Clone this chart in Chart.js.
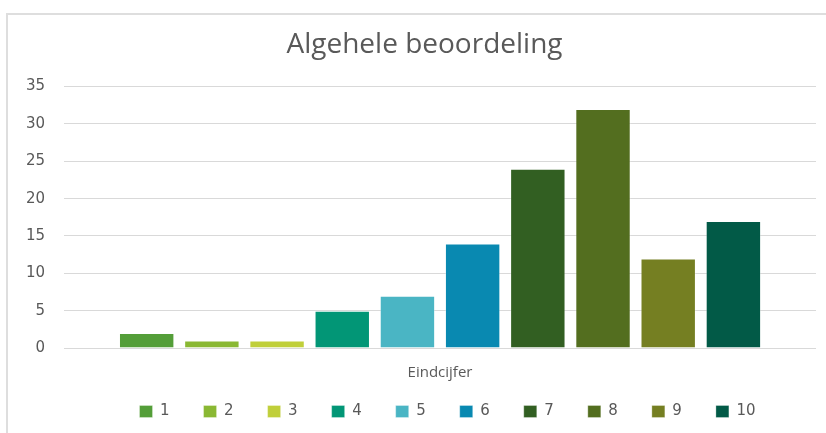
<!DOCTYPE html>
<html>
<head>
<meta charset="utf-8">
<script src="https://cdn.jsdelivr.net/npm/chart.js@4"></script>
<style>
  html, body { margin: 0; padding: 0; background: #fff; overflow: hidden; }
  #frame { position: absolute; left: 6px; top: 13px; width: 840px; height: 440px; border-left: 2px solid #dedede; border-top: 2px solid #dedede; }
  #wrap { position: absolute; left: 0; top: 0; width: 826px; height: 433px; }
</style>
</head>
<body>
<div id="frame"></div>
<div id="wrap"><canvas id="bar-chart"></canvas></div>
<script>
// data
const categories = ['Eindcijfer'];
const grades = ['1', '2', '3', '4', '5', '6', '7', '8', '9', '10'];
const counts = [2, 1, 1, 5, 7, 14, 24, 32, 12, 17];
const colors = ['#549E39', '#8AB833', '#C0CF3A', '#029676', '#4AB5C4', '#0989B1', '#325F22', '#536E1F', '#757F22', '#025A47'];
const yMax = 35;
const yStep = 5;

const grey = '#595959';

// title and legend sit off the layout centre in the original
const nudge = {
  id: 'nudge',
  afterLayout(chart) {
    chart.titleBlock.left += 13; chart.titleBlock.right += 13;
    chart.legend.left += 36; chart.legend.right += 36;
    chart.legend.top -= 20; chart.legend.bottom -= 20;
  }
};

new Chart(document.getElementById('bar-chart'), {
  type: 'bar',
  data: {
    labels: categories,
    datasets: grades.map((g, i) => ({
      label: g,
      data: [counts[i]],
      backgroundColor: colors[i],
      borderColor: 'rgba(255,255,255,0.3)',
      borderWidth: 1,
      categoryPercentage: 0.867,
      barPercentage: 0.85
    }))
  },
  options: {
    responsive: true,
    maintainAspectRatio: false,
    animation: false,
    layout: { padding: { left: 7, right: 10, top: 0, bottom: -16 } },
    plugins: {
      title: {
        display: true,
        text: 'Algehele beoordeling',
        color: grey,
        font: { family: 'Open Sans', size: 28, weight: 'normal' },
        padding: { top: 28, bottom: 25 }
      },
      legend: {
        position: 'bottom',
        labels: {
          color: grey,
          font: { family: 'DejaVu Sans', size: 15 },
          boxWidth: 13,
          boxHeight: 12,
          padding: 34
        }
      },
      tooltip: { enabled: false }
    },
    scales: {
      x: {
        grid: { display: false },
        border: { display: false },
        ticks: { color: grey, font: { family: 'Open Sans', size: 15 }, padding: 8 }
      },
      y: {
        min: 0,
        max: yMax,
        grid: { color: '#d9d9d9', lineWidth: 1, drawTicks: false },
        border: { display: false },
        ticks: { stepSize: yStep, color: grey, font: { family: 'DejaVu Sans', size: 15 }, padding: 19 }
      }
    }
  },
  plugins: [nudge]
});
</script>
</body>
</html>
